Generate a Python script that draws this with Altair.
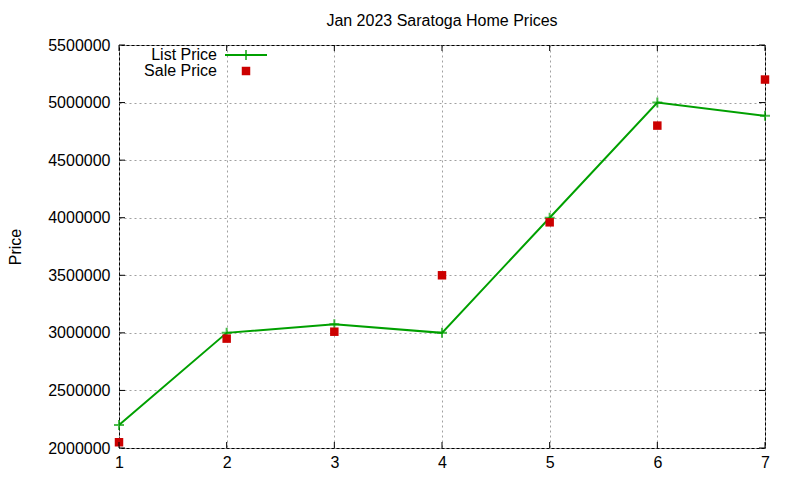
import altair as alt
import pandas as pd

# sales per listing number, Jan 2023
house = [1, 2, 3, 4, 5, 6, 7]
list_price = [2200000, 3000000, 3075000, 3000000, 4000000, 5000000, 4885000]
sale_price = [2050000, 2950000, 3010000, 3500000, 3960000, 4800000, 5200000]

y_ticks = [2000000, 2500000, 3000000, 3500000, 4000000, 4500000, 5000000, 5500000]
x_ticks = [1, 2, 3, 4, 5, 6, 7]

W, H = 646, 403
GREEN = '#00a000'
RED = '#cc0000'
FONT = 'Liberation Sans'
FS = 16

df = pd.DataFrame({'house': house, 'list': list_price, 'sale': sale_price})

xscale = alt.Scale(domain=[1, 7], nice=False, zero=False)
yscale = alt.Scale(domain=[2000000, 5500000], nice=False, zero=False)

xaxis = alt.Axis(values=x_ticks, format='d', grid=True, ticks=False, domain=False,
                 labelFlush=False, labelOverlap=False,
                 labelPadding=6, labelFontSize=FS, labelColor='black')
yaxis = alt.Axis(values=y_ticks, format='d', grid=True, ticks=False, domain=False,
                 labelFlush=False, labelOverlap=False,
                 labelPadding=9, labelFontSize=FS, labelColor='black',
                 titleFontSize=FS, titleFontWeight='normal', titlePadding=24)


def X(f):
    return alt.X(f, scale=xscale, axis=xaxis, title=None)


def Y(f):
    return alt.Y(f, scale=yscale, axis=yaxis, title='Price')


plus = 'M-1,0L1,0M0,-1L0,1'

line = alt.Chart(df).mark_line(color=GREEN, strokeWidth=2).encode(
    x=X('house:Q'), y=Y('list:Q'))
pts = alt.Chart(df).mark_point(shape=plus, size=100, color=GREEN, strokeWidth=2).encode(
    x=X('house:Q'), y=Y('list:Q'))
sq = alt.Chart(df).mark_square(size=72, color=RED, opacity=1).encode(
    x=X('house:Q'), y=Y('sale:Q'))

# inward ticks on all four sides, gnuplot style
yt = pd.DataFrame({'v': y_ticks})
xt = pd.DataFrame({'house': x_ticks})
tick_l = alt.Chart(yt).mark_rule(color='black').encode(
    y=Y('v:Q'), x=alt.value(0), x2=alt.value(6))
tick_r = alt.Chart(yt).mark_rule(color='black').encode(
    y=Y('v:Q'), x=alt.value(W - 6), x2=alt.value(W))
tick_b = alt.Chart(xt).mark_rule(color='black').encode(
    x=X('house:Q'), y=alt.value(H - 6), y2=alt.value(H))
tick_t = alt.Chart(xt).mark_rule(color='black').encode(
    x=X('house:Q'), y=alt.value(0), y2=alt.value(6))

# key in the top left corner
k1 = pd.DataFrame({'s': ['List Price']})
k2 = pd.DataFrame({'s': ['Sale Price']})
key_t1 = alt.Chart(k1).mark_text(align='right', baseline='middle', fontSize=FS, font=FONT).encode(
    text='s:N', x=alt.value(98), y=alt.value(10))
key_t2 = alt.Chart(k2).mark_text(align='right', baseline='middle', fontSize=FS, font=FONT).encode(
    text='s:N', x=alt.value(98), y=alt.value(26))
key_l = alt.Chart(k1).mark_rule(color=GREEN, strokeWidth=2).encode(
    x=alt.value(106), x2=alt.value(148), y=alt.value(10))
key_p = alt.Chart(k1).mark_point(shape=plus, size=100, color=GREEN, strokeWidth=2).encode(
    x=alt.value(127), y=alt.value(10))
key_s = alt.Chart(k2).mark_square(size=72, color=RED, opacity=1).encode(
    x=alt.value(127), y=alt.value(26))

chart = alt.layer(
    line, pts, sq, tick_l, tick_r, tick_b, tick_t,
    key_t1, key_t2, key_l, key_p, key_s
).properties(
    width=W, height=H,
    title=alt.TitleParams('Jan 2023 Saratoga Home Prices', fontSize=FS,
                          fontWeight='normal', offset=8, font=FONT),
    autosize=alt.AutoSizeParams(type='none'),
    padding={'left': 111, 'top': 37, 'right': 27, 'bottom': 24},
).configure(
    font=FONT,
).configure_view(
    stroke='black', strokeWidth=1
).configure_axis(
    gridColor='#a0a0a0', gridDash=[2, 3], gridWidth=1, gridOpacity=1,
    labelFont=FONT, titleFont=FONT, titleColor='black'
)

chart.save('out.html', embed_options={'renderer': 'svg', 'actions': False})
